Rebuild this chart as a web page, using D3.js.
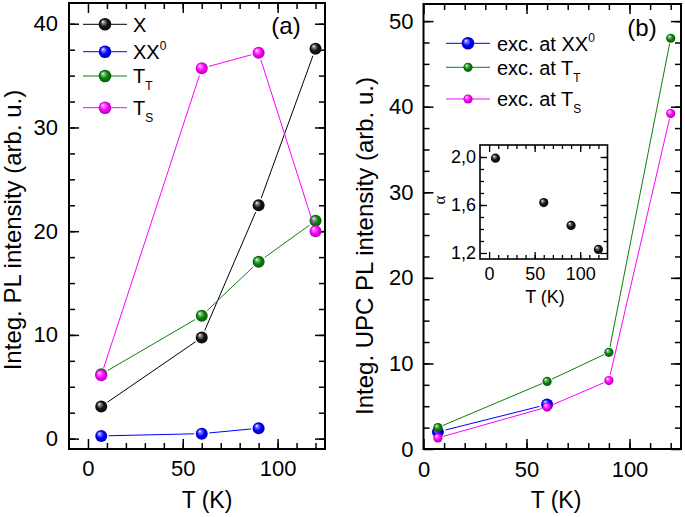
<!DOCTYPE html>
<html><head><meta charset="utf-8">
<script src="https://cdn.jsdelivr.net/npm/d3@7"></script>
<style>
body{margin:0;background:#fff}
text{font-family:"Liberation Sans",Arial,sans-serif;fill:#000}
</style>
</head><body>
<svg id="c" width="685" height="517"></svg>
<script>
// ---------- data ----------
const temps = [7, 60, 90, 120];
const tempsXX0a = [7, 60, 90];
const tempsXX0b = [7, 60];
// panel (a) integrated PL intensity
const plX   = [3.1, 9.75, 22.5, 37.6];
const plXX0 = [0.26, 0.48, 1.0];
const plTT  = [6.2, 11.85, 17.05, 21.0];
const plTS  = [6.1, 35.7, 37.2, 20.0];
// panel (b) integrated UPC PL intensity
const upcXX0 = [2.0, 5.2];
const upcTT  = [2.5, 7.9, 11.3, 48.0];
const upcTS  = [1.3, 4.9, 8.0, 39.2];
// inset alpha
const alphaVals = [1.99, 1.62, 1.43, 1.23];
// tick labels
const aXTicks = [0, 50, 100];
const aYTicks = [0, 10, 20, 30, 40];
const bXTicks = [0, 50, 100];
const bYTicks = [0, 10, 20, 30, 40, 50];
const inXTicks = [0, 50, 100];
const inYTicks = [1.2, 1.6, 2.0];
const inYLabels = ["1,2", "1,6", "2,0"];
// legend labels
const legA = [["X", null, null], ["XX", "0", "sup"], ["T", "T", "sub"], ["T", "S", "sub"]];
const legB = [["exc. at XX", "0", "sup"], ["exc. at T", "T", "sub"], ["exc. at T", "S", "sub"]];

const colors = {black: "#000000", blue: "#0000ff", green: "#0a820a", magenta: "#ff00ff"};

const svg = d3.select("#c");
const defs = svg.append("defs");
function grad(id, c) {
  const g = defs.append("radialGradient").attr("id", id)
    .attr("cx", "50%").attr("cy", "50%").attr("r", "55%").attr("fx", "32%").attr("fy", "28%");
  const base = d3.color(c);
  const light = d3.interpolateRgb(c, "#ffffff")(0.55);
  const dark = base.darker(1.2);
  g.append("stop").attr("offset", "0%").attr("stop-color", "#ffffff");
  g.append("stop").attr("offset", "18%").attr("stop-color", light);
  g.append("stop").attr("offset", "55%").attr("stop-color", c);
  g.append("stop").attr("offset", "100%").attr("stop-color", dark.formatHex());
}
grad("gBlack", "#111111");
grad("gBlue", colors.blue);
grad("gGreen", colors.green);
grad("gMagenta", colors.magenta);
const gradOf = {black: "url(#gBlack)", blue: "url(#gBlue)", green: "url(#gGreen)", magenta: "url(#gMagenta)"};

function range(a, b, s) { const r = []; for (let v = a; v <= b + 1e-9; v += s) r.push(+v.toFixed(4)); return r; }

function drawFrame(g, x, y, o) {
  const [x0, x1] = x.range(), [y0, y1] = y.range();
  const W = x1 - x0, H = y0 - y1;
  const tickStyle = sel => { sel.select(".domain").remove(); sel.selectAll("line").attr("stroke", "#000").attr("stroke-width", o.tw); };
  // major + minor, all four sides, inward
  const sides = [
    [d3.axisBottom, x, `translate(0,${y0})`, o.xMajor, o.xMinor, true],
    [d3.axisTop, x, `translate(0,${y1})`, o.xMajor, o.xMinor, false],
    [d3.axisLeft, y, `translate(${x0},0)`, o.yMajor, o.yMinor, true],
    [d3.axisRight, y, `translate(${x1},0)`, o.yMajor, o.yMinor, false]
  ];
  sides.forEach(([ax, sc, tr, maj, min, lab]) => {
    g.append("g").attr("transform", tr)
      .call(ax(sc).tickValues(min).tickSize(-o.minLen).tickFormat(""))
      .call(tickStyle);
    const a = g.append("g").attr("transform", tr)
      .call(ax(sc).tickValues(maj).tickSize(-o.majLen)
        .tickPadding(ax === d3.axisBottom ? o.xPad : o.yPad)
        .tickFormat(lab ? (d, i) => (ax === d3.axisBottom ? o.xLabels[i] : o.yLabels[i]) : ""))
      .call(tickStyle);
    a.selectAll("text").style("font-size", o.fs + "px").attr("fill", "#000")
      .style("font-family", '"Liberation Sans",Arial,sans-serif');
  });
  g.append("rect").attr("x", x0).attr("y", y1).attr("width", W).attr("height", H)
    .attr("fill", "none").attr("stroke", "#000").attr("stroke-width", o.fw);
}

function drawSeries(g, x, y, xs, ys, color, r, gap, lineW) {
  const pts = xs.map((t, i) => [x(t), y(ys[i])]);
  const segs = [];
  for (let i = 0; i < pts.length - 1; i++) {
    const [ax, ay] = pts[i], [bx, by] = pts[i + 1];
    const L = Math.hypot(bx - ax, by - ay), ux = (bx - ax) / L, uy = (by - ay) / L;
    segs.push([ax + ux * gap, ay + uy * gap, bx - ux * gap, by - uy * gap]);
  }
  g.selectAll(null).data(segs).enter().append("line")
    .attr("x1", d => d[0]).attr("y1", d => d[1]).attr("x2", d => d[2]).attr("y2", d => d[3])
    .attr("stroke", colors[color]).attr("stroke-width", lineW);
  g.selectAll(null).data(pts).enter().append("circle")
    .attr("cx", d => d[0]).attr("cy", d => d[1]).attr("r", r)
    .attr("fill", gradOf[color]);
}

function legendText(g, x, y, parts, fs) {
  const t = g.append("text").attr("x", x).attr("y", y).attr("dy", "0.36em").style("font-size", fs + "px");
  t.append("tspan").text(parts[0]);
  if (parts[1]) {
    t.append("tspan").attr("dy", parts[2] === "sup" ? -9 : 7).style("font-size", (fs * 0.6) + "px").text(parts[1]);
  }
}

// ---------- panel (a) ----------
const ga = svg.append("g");
const xa = d3.scaleLinear().domain([-10, 125]).range([69, 325]);
const ya = d3.scaleLinear().domain([-1, 42]).range([449, 3]);
drawFrame(ga, xa, ya, {xMajor: aXTicks, xMinor: range(10, 120, 10), yMajor: aYTicks, yMinor: range(0, 42, 2.5),
  xLabels: aXTicks.map(String), yLabels: aYTicks.map(String), fs: 22, majLen: 10, minLen: 6, tw: 1.5, fw: 2, xPad: 11, yPad: 11});
drawSeries(ga, xa, ya, temps, plX, "black", 6, 7.5, 1);
drawSeries(ga, xa, ya, tempsXX0a, plXX0, "blue", 6, 7.5, 1);
drawSeries(ga, xa, ya, temps, plTT, "green", 6, 7.5, 1);
drawSeries(ga, xa, ya, temps, plTS, "magenta", 6, 7.5, 1);
const legAY = [24.3, 51.7, 76, 107.7];
const legAC = ["black", "blue", "green", "magenta"];
legA.forEach((p, i) => {
  ga.append("line").attr("x1", 83).attr("x2", 127).attr("y1", legAY[i]).attr("y2", legAY[i])
    .attr("stroke", colors[legAC[i]]).attr("stroke-width", 1);
  ga.append("circle").attr("cx", 105).attr("cy", legAY[i]).attr("r", 6.3).attr("fill", gradOf[legAC[i]]);
  legendText(ga, 133, legAY[i], p, 20);
});
ga.append("text").attr("x", 286).attr("y", 25).attr("dy", "0.36em").attr("text-anchor", "middle").style("font-size", "24px").text("(a)");
ga.append("text").attr("x", 207).attr("y", 508).attr("text-anchor", "middle").style("font-size", "23px").text("T (K)");
ga.append("text").attr("transform", "translate(12,230) rotate(-90)").attr("text-anchor", "middle").attr("dy", "0.36em")
  .style("font-size", "24px").text("Integ. PL intensity (arb. u.)");

// ---------- panel (b) ----------
const gb = svg.append("g");
const xb = d3.scaleLinear().domain([0, 125]).range([423.5, 681]);
const yb = d3.scaleLinear().domain([0, 52]).range([449, 4]);
drawFrame(gb, xb, yb, {xMajor: bXTicks, xMinor: range(10, 120, 10), yMajor: bYTicks, yMinor: range(2.5, 52, 2.5),
  xLabels: bXTicks.map(String), yLabels: bYTicks.map(String), fs: 22, majLen: 10, minLen: 6, tw: 1.5, fw: 2, xPad: 12, yPad: 10});
drawSeries(gb, xb, yb, tempsXX0b, upcXX0, "blue", 6, 8, 1);
drawSeries(gb, xb, yb, temps, upcTT, "green", 4.6, 5.5, 1);
drawSeries(gb, xb, yb, temps, upcTS, "magenta", 4.6, 5.5, 1);
const legBY = [43.3, 67.3, 99];
const legBC = ["blue", "green", "magenta"];
const legBR = [6.3, 4.6, 4.6];
legB.forEach((p, i) => {
  gb.append("line").attr("x1", 446).attr("x2", 490).attr("y1", legBY[i]).attr("y2", legBY[i])
    .attr("stroke", colors[legBC[i]]).attr("stroke-width", 1);
  gb.append("circle").attr("cx", 468).attr("cy", legBY[i]).attr("r", legBR[i]).attr("fill", gradOf[legBC[i]]);
  legendText(gb, 497, legBY[i], p, 20);
});
gb.append("text").attr("x", 642).attr("y", 27).attr("dy", "0.36em").attr("text-anchor", "middle").style("font-size", "24px").text("(b)");
gb.append("text").attr("x", 556).attr("y", 508).attr("text-anchor", "middle").style("font-size", "23px").text("T (K)");
gb.append("text").attr("transform", "translate(364,246) rotate(-90)").attr("text-anchor", "middle").attr("dy", "0.36em")
  .style("font-size", "24px").text("Integ. UPC PL intensity (arb. u.)");

// ---------- inset ----------
const gi = svg.append("g");
const xi = d3.scaleLinear().domain([-10, 130]).range([480, 607.5]);
const yi = d3.scaleLinear().domain([1.15, 2.1]).range([259, 145]);
gi.append("rect").attr("x", 480).attr("y", 145).attr("width", 127.5).attr("height", 114).attr("fill", "#fff");
drawFrame(gi, xi, yi, {xMajor: inXTicks, xMinor: range(10, 120, 10), yMajor: inYTicks, yMinor: range(1.3, 2.0, 0.1),
  xLabels: inXTicks.map(String), yLabels: inYLabels, fs: 18, majLen: 7, minLen: 4, tw: 1.3, fw: 1.6, xPad: 8, yPad: 4});
gi.selectAll(null).data(temps).enter().append("circle")
  .attr("cx", d => xi(d)).attr("cy", (d, i) => yi(alphaVals[i])).attr("r", 4.6).attr("fill", gradOf.black);
gi.append("text").attr("x", 545).attr("y", 303).attr("text-anchor", "middle").style("font-size", "18px").text("T (K)");
gi.append("text").attr("transform", "translate(439,200) rotate(-90)").attr("text-anchor", "middle").attr("dy", "0.36em")
  .style("font-size", "17px").style("font-family", '"Liberation Serif",serif').text("α");
</script>
</body></html>
